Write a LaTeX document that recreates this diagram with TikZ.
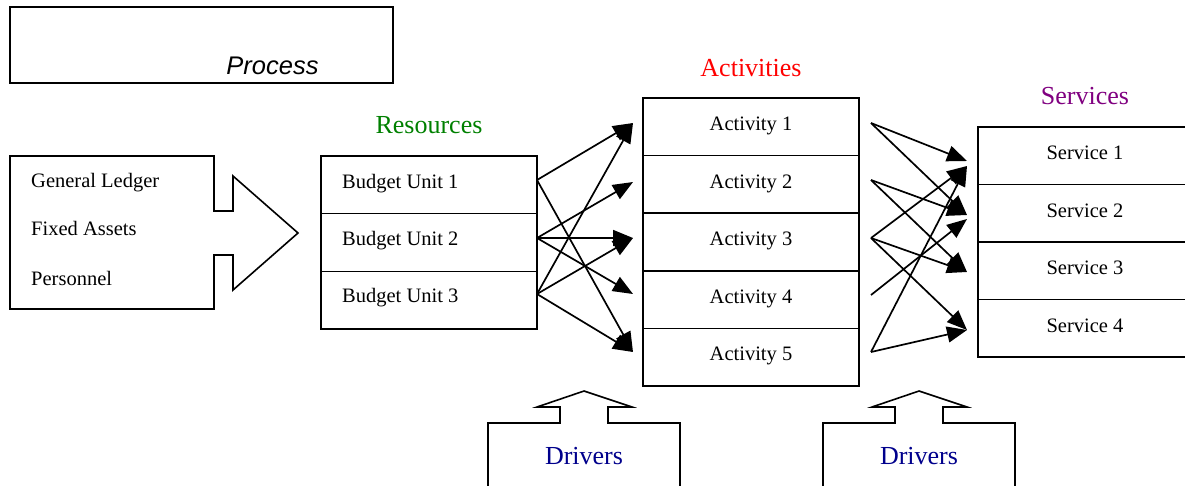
\documentclass[tikz,border=0pt]{standalone}
\usepackage{fontspec}
\setmainfont{Liberation Serif}
\newfontfamily\arialfont{Liberation Sans}
\usetikzlibrary{arrows.meta}
\definecolor{resgreen}{RGB}{0,128,0}
\definecolor{actred}{RGB}{255,0,0}
\definecolor{svcpurple}{RGB}{128,0,128}
\definecolor{drvnavy}{RGB}{0,0,140}
\begin{document}
\begin{tikzpicture}[x=1pt,y=-1pt,
  cell/.style={draw, rectangle, inner sep=0pt, line width=1.6pt, minimum width=216pt},
  lbl/.style={font=\fontsize{20.5}{24}\selectfont, inner sep=0pt},
  big/.style={font=\fontsize{26}{30}\selectfont, inner sep=0pt},
  flow/.style={-{Triangle[length=20pt,width=16pt]}, line width=1.7pt},
  outline/.style={draw, line width=1.6pt, line join=miter}]
\useasboundingbox (0,0) rectangle (1185,485);

% Process box
\node[draw, line width=1.6pt, minimum width=383pt, minimum height=76pt, inner sep=0pt] (procbox) at (201.5,45) {};
\node[font=\arialfont\itshape\fontsize{25.5}{30}\selectfont, inner sep=0pt] (proctext) at (272.5,66) {Process};

% Source arrow shape
\draw[outline] (10,156) -- (214,156) -- (214,211) -- (233,211) -- (233,176) -- (298,233)
  -- (233,290) -- (233,255) -- (214,255) -- (214,309) -- (10,309) -- cycle;
\node[lbl, anchor=base west] (gl) at (31,187) {General Ledger};
\node[lbl, anchor=base west] (fa) at (31,235) {Fixed Assets};
\node[lbl, anchor=base west] (pe) at (31,285) {Personnel};

% Titles
\node[big, text=resgreen] (restitle) at (429,125) {Resources};
\node[big, text=actred] (acttitle) at (751,68) {Activities};
\node[big, text=svcpurple] (svctitle) at (1085,96) {Services};

% Budget units
\node[cell, minimum height=57.7pt] (bu1) at (429,184.8) {};
\node[cell, minimum height=57.7pt] (bu2) at (429,242.5) {};
\node[cell, minimum height=57.7pt] (bu3) at (429,300.2) {};
\node[lbl, anchor=base west] (bu1t) at (342,188) {Budget Unit 1};
\node[lbl, anchor=base west] (bu2t) at (342,245) {Budget Unit 2};
\node[lbl, anchor=base west] (bu3t) at (342,302) {Budget Unit 3};

% Activities
\node[cell, minimum height=57.6pt] (a1) at (751,126.8) {};
\node[cell, minimum height=57.6pt] (a2) at (751,184.4) {};
\node[cell, minimum height=57.6pt] (a3) at (751,242.0) {};
\node[cell, minimum height=57.6pt] (a4) at (751,299.6) {};
\node[cell, minimum height=57.6pt] (a5) at (751,357.2) {};
\node[lbl, anchor=base] (a1t) at (751,130) {Activity 1};
\node[lbl, anchor=base] (a2t) at (751,188) {Activity 2};
\node[lbl, anchor=base] (a3t) at (751,245) {Activity 3};
\node[lbl, anchor=base] (a4t) at (751,303) {Activity 4};
\node[lbl, anchor=base] (a5t) at (751,360) {Activity 5};

% Services (extend past right edge)
\node[cell, minimum width=240pt, minimum height=57.5pt] (s1) at (1098,155.75) {};
\node[cell, minimum width=240pt, minimum height=57.5pt] (s2) at (1098,213.25) {};
\node[cell, minimum width=240pt, minimum height=57.5pt] (s3) at (1098,270.75) {};
\node[cell, minimum width=240pt, minimum height=57.5pt] (s4) at (1098,328.25) {};
\node[lbl, anchor=base] (s1t) at (1085,159) {Service 1};
\node[lbl, anchor=base] (s2t) at (1085,217) {Service 2};
\node[lbl, anchor=base] (s3t) at (1085,274) {Service 3};
\node[lbl, anchor=base] (s4t) at (1085,332) {Service 4};

% Connector ends: resources -> activities
\coordinate (bo1) at (537,180);
\coordinate (bo2) at (537,238);
\coordinate (bo3) at (537,294);
\coordinate (ai1) at (633,123);
\coordinate (ai2) at (633,182);
\coordinate (ai3) at (633,238);
\coordinate (ai4) at (633,294);
\coordinate (ai5) at (633,352);
\draw[flow] (bo1) -- (ai1);
\draw[flow] (bo1) -- (ai5);
\draw[flow] (bo2) -- (ai2);
\draw[flow] (bo2) -- (ai3);
\draw[flow] (bo2) -- (ai4);
\draw[flow] (bo3) -- (ai1);
\draw[flow] (bo3) -- (ai3);
\draw[flow] (bo3) -- (ai5);

% Connector ends: activities -> services
\coordinate (ao1) at (871,123);
\coordinate (ao2) at (871,180);
\coordinate (ao3) at (871,238);
\coordinate (ao4) at (871,295);
\coordinate (ao5) at (871,352);
\coordinate (si1a) at (967,161);
\coordinate (si1b) at (967,166);
\coordinate (si2a) at (967,215);
\coordinate (si2b) at (967,219);
\coordinate (si3) at (967,272);
\coordinate (si4) at (967,330);
\draw[flow] (ao1) -- (si1a);
\draw[flow] (ao1) -- (si2a);
\draw[flow] (ao2) -- (si2a);
\draw[flow] (ao2) -- (si3);
\draw[flow] (ao3) -- (si1b);
\draw[flow] (ao3) -- (si3);
\draw[flow] (ao3) -- (si4);
\draw[flow] (ao4) -- (si2b);
\draw[flow] (ao5) -- (si1b);
\draw[flow] (ao5) -- (si4);

% Drivers shapes
\draw[outline] (488,495) -- (488,423) -- (560,423) -- (560,407) -- (537,407) -- (584,391)
  -- (632,407) -- (608,407) -- (608,423) -- (680,423) -- (680,495);
\node[big, text=drvnavy] (drv1) at (584,456) {Drivers};
\draw[outline] (823,495) -- (823,423) -- (895,423) -- (895,407) -- (872,407) -- (919,391)
  -- (967,407) -- (943,407) -- (943,423) -- (1015,423) -- (1015,495);
\node[big, text=drvnavy] (drv2) at (919,456) {Drivers};
\end{tikzpicture}
\end{document}
